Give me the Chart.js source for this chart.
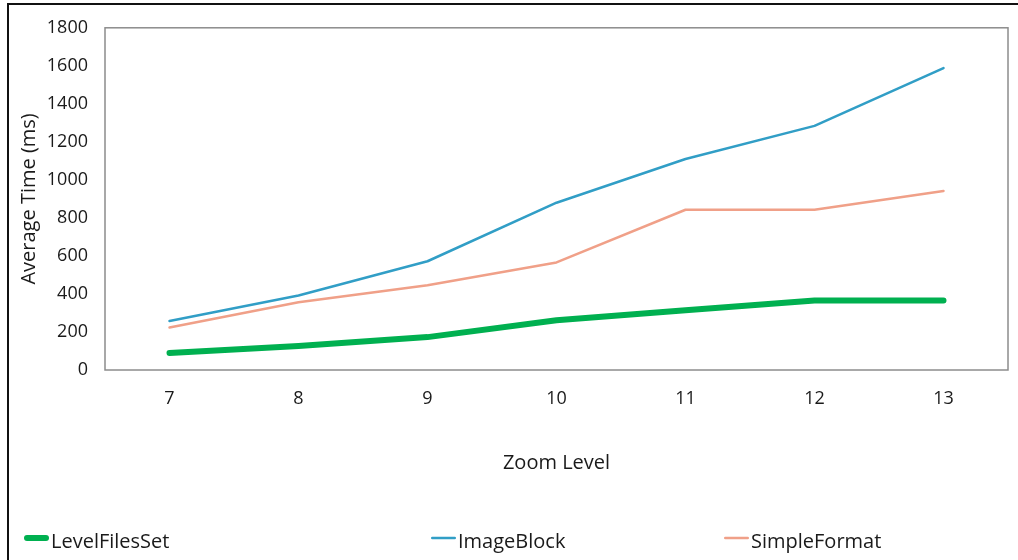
<!DOCTYPE html>
<html>
<head>
<meta charset="utf-8">
<script src="https://cdn.jsdelivr.net/npm/chart.js@4.4.1/dist/chart.umd.min.js"></script>
<style>
  html, body { margin: 0; padding: 0; background: #ffffff; }
  #wrap { width: 1018px; height: 560px; }
</style>
</head>
<body>
<div id="wrap"><canvas id="c" width="1018" height="560"></canvas></div>
<script>
// Average render time per zoom level (ms)
const zoomLevels = ['7', '8', '9', '10', '11', '12', '13'];
const levelFilesSet = [90, 126, 173, 262, 314, 366, 366];
const imageBlock = [258, 392, 572, 880, 1110, 1284, 1588];
const simpleFormat = [224, 356, 446, 566, 843, 843, 942];
const seriesNames = ['LevelFilesSet', 'ImageBlock', 'SimpleFormat'];
const yMin = 0, yMax = 1800, yStep = 200;

const FONT = '"Open Sans", "DejaVu Sans", sans-serif';
const TEXT = '#1a1a1a';

// Outer frame and plot-area box
const framePlugin = {
  id: 'frame',
  beforeDraw(chart) {
    const ctx = chart.ctx;
    ctx.save();
    ctx.fillStyle = '#ffffff';
    ctx.fillRect(0, 0, chart.width, chart.height);
    ctx.fillStyle = '#111111';
    ctx.fillRect(7, 3, 2, chart.height);
    ctx.fillRect(7, 3, chart.width, 2);
    ctx.restore();
  },
  beforeDatasetsDraw(chart) {
    const a = chart.chartArea, ctx = chart.ctx;
    ctx.save();
    ctx.strokeStyle = '#8c8c8c';
    ctx.lineWidth = 1.5;
    ctx.strokeRect(a.left, a.top, a.right - a.left, a.bottom - a.top);
    ctx.restore();
  }
};

// Legend row along the bottom, one line sample + label per series
const legendX = [24, 431, 724];
const legendPlugin = {
  id: 'bottomLegend',
  afterDraw(chart) {
    const ctx = chart.ctx;
    const y = 538;
    ctx.save();
    chart.data.datasets.forEach((ds, i) => {
      const x = legendX[i];
      ctx.strokeStyle = ds.borderColor;
      ctx.lineWidth = ds.borderWidth;
      ctx.lineCap = 'round';
      ctx.beginPath();
      ctx.moveTo(x + ds.borderWidth / 2, y);
      ctx.lineTo(x + 25 - ds.borderWidth / 2, y);
      ctx.stroke();
      ctx.fillStyle = TEXT;
      ctx.font = '20px ' + FONT;
      ctx.textBaseline = 'middle';
      ctx.textAlign = 'left';
      ctx.fillText(ds.label, x + 27, y + 4);
    });
    ctx.restore();
  }
};

new Chart(document.getElementById('c'), {
  type: 'line',
  data: {
    labels: zoomLevels,
    datasets: [
      { label: seriesNames[0], data: levelFilesSet, borderColor: '#00b050', borderWidth: 6 },
      { label: seriesNames[1], data: imageBlock, borderColor: '#319ec6', borderWidth: 2.5 },
      { label: seriesNames[2], data: simpleFormat, borderColor: '#f0a088', borderWidth: 2.5 }
    ]
  },
  options: {
    responsive: false,
    animation: false,
    devicePixelRatio: 1,
    layout: { padding: { left: 0, top: 26, right: 10, bottom: 0 } },
    elements: {
      point: { radius: 0, hoverRadius: 0 },
      line: { tension: 0, borderCapStyle: 'round', borderJoinStyle: 'round', fill: false }
    },
    plugins: {
      legend: { display: false },
      tooltip: { enabled: false }
    },
    scales: {
      x: {
        offset: true,
        grid: { display: false, drawTicks: false },
        border: { display: false },
        ticks: { color: TEXT, font: { family: FONT, size: 18 }, padding: 18 },
        title: {
          display: true, text: 'Zoom Level', color: TEXT,
          font: { family: FONT, size: 20 }, padding: { top: 0, bottom: 85 }
        },
        afterFit(scale) { scale.height = 190; }
      },
      y: {
        min: yMin, max: yMax,
        grid: { display: false, drawTicks: false },
        border: { display: false },
        ticks: {
          stepSize: yStep, color: TEXT, font: { family: FONT, size: 18 }, padding: 17,
          callback: (v) => String(v)
        },
        title: {
          display: true, text: 'Average Time (ms)', color: TEXT,
          font: { family: FONT, size: 20 }, padding: { top: 17, bottom: 0 }
        },
        afterFit(scale) { scale.width = 105; }
      }
    }
  },
  plugins: [framePlugin, legendPlugin]
});
</script>
</body>
</html>
